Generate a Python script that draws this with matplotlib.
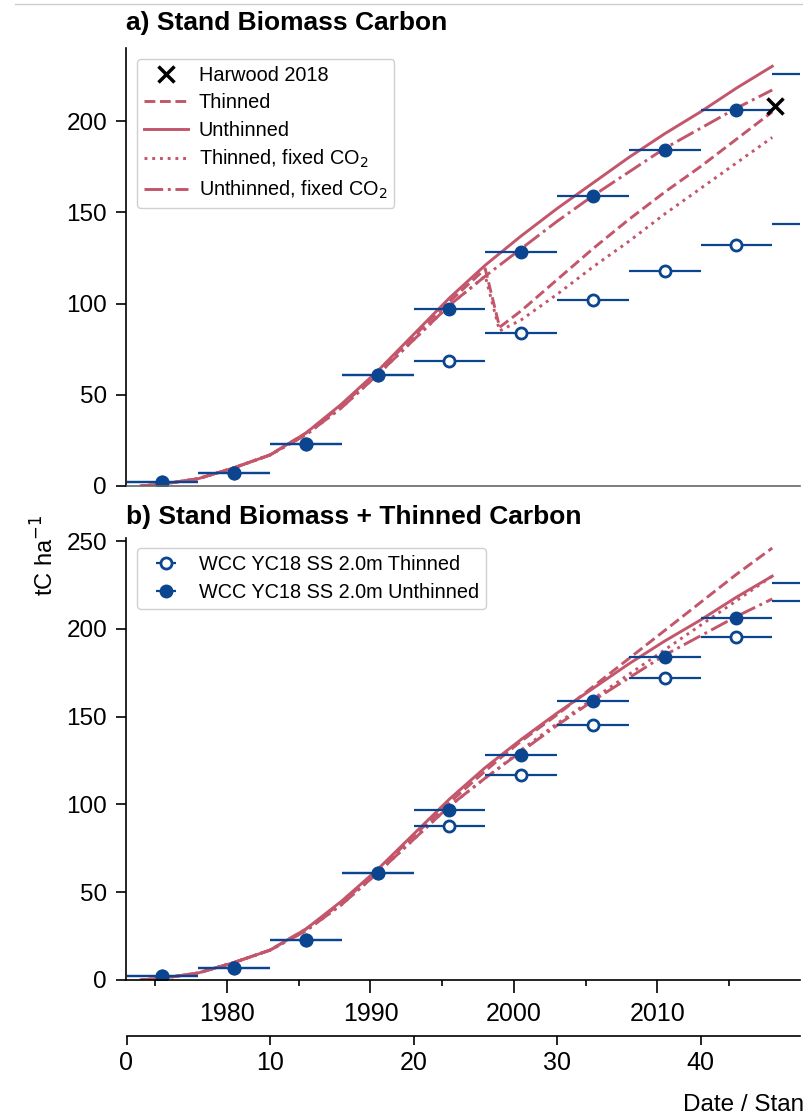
import matplotlib.pyplot as plt
from matplotlib.lines import Line2D

plt.rcParams['font.family'] = ['Liberation Sans', 'DejaVu Sans']

PLANTED = 1973
MODEL = '#c3566b'
WCC = '#0b4590'

# modelled carbon (tC/ha) against stand age (years)
age = [1, 2.5, 5, 7.5, 10, 12.5, 15, 17.5, 20, 22.5, 25, 27.5, 30, 32.5, 35, 37.5, 40, 42.5, 45]
unthinned = [0, 1, 4, 10, 17, 29, 45, 63, 83, 103, 121, 137, 152, 166, 180, 193, 205, 218, 230]
unthinned_fixed = [0, 1, 4, 10, 17, 28, 43, 61, 80, 99, 115, 130, 145, 159, 172, 185, 196, 207, 217]

# thinned runs carry an extra point just after the first thinning
age_thin = [1, 2.5, 5, 7.5, 10, 12.5, 15, 17.5, 20, 22.5, 25, 26, 27.5, 30, 32.5, 35, 37.5, 40, 42.5, 45]
thinned_stand = [0, 1, 4, 10, 17, 29, 44, 62, 82, 101, 119, 87, 96, 113, 130, 146, 161, 175, 190, 205]
thinned_fixed_stand = [0, 1, 4, 10, 17, 28, 43, 61, 80, 99, 115, 85, 91, 105, 120, 134, 149, 163, 177, 191]
thinned_total = [0, 1, 4, 10, 17, 29, 44, 62, 82, 101, 119, 126, 136, 151, 167, 183, 199, 215, 231, 246]
thinned_fixed_total = [0, 1, 4, 10, 17, 28, 43, 61, 80, 99, 115, 121, 131, 146, 160, 174, 188, 202, 216, 230]

# yield class tables, 5-year periods
wcc_age = [2.5, 7.5, 12.5, 17.5, 22.5, 27.5, 32.5, 37.5, 42.5, 47.5]
wcc_unthinned = [2, 7, 23, 61, 97, 128, 159, 184, 206, 226]
wcc_thinned_stand = [2, 7, 23, 61, 68.5, 84, 102, 118, 132, 143.5]
wcc_thinned_total = [2, 7, 23, 61, 87.5, 117, 145, 172, 195.5, 216]

harwood_year = [2018.2]
harwood_carbon = [208]


def dates(ages):
    return [PLANTED + a for a in ages]


fig = plt.figure(figsize=(8.04, 11.19), dpi=100)
W, H = 804, 1119
x0 = 126.5
px_per_year = 14.35
xlim = (PLANTED, 2019.9)
width = (xlim[1] - xlim[0]) * px_per_year

ax_a = fig.add_axes([x0 / W, (H - 486) / H, width / W, 438 / H])
ax_b = fig.add_axes([x0 / W, (H - 980) / H, width / W, 442.5 / H])

# thin rule along the top edge
fig.add_artist(Line2D([15 / W, 1], [1 - 4 / H, 1 - 4 / H], color='#cccccc', lw=1))

panels = [
    (ax_a, thinned_stand, thinned_fixed_stand, wcc_thinned_stand, (0, 240)),
    (ax_b, thinned_total, thinned_fixed_total, wcc_thinned_total, (0, 252)),
]
for ax, thin, thin_fixed, wcc_thin, ylim in panels:
    ax.plot(dates(age_thin), thin, color=MODEL, lw=2.1, ls='--', label='Thinned')
    ax.plot(dates(age), unthinned, color=MODEL, lw=2.1, ls='-', label='Unthinned')
    ax.plot(dates(age_thin), thin_fixed, color=MODEL, lw=2.1, ls=':',
            label='Thinned, fixed CO$_2$')
    ax.plot(dates(age), unthinned_fixed, color=MODEL, lw=2.1, ls='-.',
            label='Unthinned, fixed CO$_2$')
    eb_thin = ax.errorbar(dates(wcc_age), wcc_thin, xerr=2.5, fmt='o', color=WCC,
                          mfc='white', mec=WCC, mew=2, ms=8, lw=1.6, capsize=0,
                          label='WCC YC18 SS 2.0m Thinned')
    eb_unthin = ax.errorbar(dates(wcc_age), wcc_unthinned, xerr=2.5, fmt='o', color=WCC,
                            ms=9, lw=1.6, capsize=0, label='WCC YC18 SS 2.0m Unthinned')
    ax.set_xlim(*xlim)
    ax.set_ylim(*ylim)
    for s in ['top', 'right']:
        ax.spines[s].set_visible(False)
    ax.spines['left'].set_linewidth(1.2)
    ax.tick_params(axis='y', length=7.5, width=1.2, labelsize=17.5, pad=6.5)

ax_a.set_yticks([0, 50, 100, 150, 200])
ax_b.set_yticks([0, 50, 100, 150, 200, 250])

hw, = ax_a.plot(harwood_year, harwood_carbon, 'x', color='black', ms=11, mew=2.5,
                label='Harwood 2018')

# panel a: only a baseline, no date ticks
ax_a.tick_params(axis='x', bottom=False, labelbottom=False)
ax_a.spines['bottom'].set_color('#666666')
ax_a.spines['bottom'].set_linewidth(1.2)

handles_a = [hw] + ax_a.get_lines()[:4]
ax_a.legend(handles=handles_a, loc='upper left', fontsize=14.3, borderaxespad=0.55,
            handlelength=2.2, handletextpad=0.55, labelspacing=0.42, borderpad=0.35,
            framealpha=1, edgecolor='#d0d0d0')
ax_b.legend(handles=[eb_thin, eb_unthin], loc='upper left', fontsize=14.3,
            borderaxespad=0.55, handlelength=2.2, handletextpad=0.55, labelspacing=0.42,
            borderpad=0.35, framealpha=1, edgecolor='#d0d0d0')

ax_a.set_title('a) Stand Biomass Carbon', loc='left', fontsize=19, fontweight='bold', pad=13)
ax_b.set_title('b) Stand Biomass + Thinned Carbon', loc='left', fontsize=19,
               fontweight='bold', pad=10)

# date axis
ax_b.spines['bottom'].set_linewidth(1.2)
ax_b.set_xticks([1980, 1990, 2000, 2010])
ax_b.set_xticks([1975, 1985, 1995, 2005, 2015], minor=True)
ax_b.tick_params(axis='x', which='major', length=9, width=1.2, labelsize=18, pad=7)
ax_b.tick_params(axis='x', which='minor', length=4.5, width=1.2)

# stand age axis below the dates
sec = ax_b.secondary_xaxis(-(1036 - 980) / 442.5,
                           functions=(lambda d: d - PLANTED, lambda a: a + PLANTED))
sec.set_xticks([0, 10, 20, 30, 40])
sec.spines['bottom'].set_linewidth(1.2)
sec.tick_params(axis='x', length=6.5, width=1.2, labelsize=18, pad=4)

fig.text(45 / W, 1 - 555 / H, 'tC ha$^{-1}$', rotation=90, ha='center', va='center',
         fontsize=17)
fig.text(683 / W, 1 - 1105 / H, 'Date / Stand age (years)', ha='left', va='center',
         fontsize=17.5)

fig.savefig('out.png', dpi=100)
